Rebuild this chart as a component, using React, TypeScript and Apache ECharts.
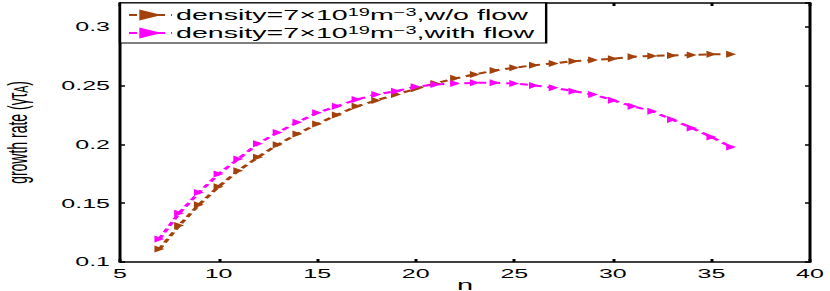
import { useEffect, useRef } from 'react';
import * as echarts from 'echarts';

const nValues = [7, 8, 9, 10, 11, 12, 13, 14, 15, 16, 17, 18, 19, 20, 21, 22, 23, 24, 25, 26, 27, 28, 29, 30, 31, 32, 33, 34, 35, 36];
const growthNoFlow = [0.111, 0.131, 0.1486, 0.164, 0.1775, 0.189, 0.1997, 0.2088, 0.2173, 0.2248, 0.2323, 0.2372, 0.2423, 0.2471, 0.2517, 0.256, 0.2593, 0.2627, 0.265, 0.2672, 0.2687, 0.2706, 0.2715, 0.2727, 0.2744, 0.275, 0.2755, 0.2758, 0.2764, 0.2764];
const growthWithFlow = [0.1196, 0.1415, 0.159, 0.1747, 0.1875, 0.2005, 0.21, 0.2187, 0.2267, 0.2323, 0.238, 0.2423, 0.2451, 0.2488, 0.2508, 0.2517, 0.2522, 0.2522, 0.2517, 0.25, 0.248, 0.2451, 0.2423, 0.2374, 0.2323, 0.228, 0.221, 0.2139, 0.2062, 0.1977];
const seriesNames = ['w/o flow', 'with flow'];
const seriesColors = ['#A2420A', '#FF00FF'];

const FONT = '"Liberation Sans", Arial, Helvetica, sans-serif';
const STRETCH = 2;
const W = 830 / STRETCH;
const H = 291;
const TRI = 'path://M0,0L10,5L0,10Z';

export default function App() {
  const ref = useRef<HTMLDivElement>(null);
  useEffect(() => {
    const chart = echarts.init(ref.current!, null, { renderer: 'svg' });
    const axisCommon = {
      type: 'value' as const,
      splitLine: { show: false },
      axisLine: { show: true, onZero: false, lineStyle: { color: '#000', width: 1.5 } },
    };
    const series = [growthNoFlow, growthWithFlow].map((vals, i) => ({
      name: seriesNames[i],
      type: 'line',
      xAxisIndex: 0,
      yAxisIndex: 0,
      data: nValues.map((n, j) => [n, vals[j]]),
      symbol: TRI,
      symbolSize: [5, 7],
      showAllSymbol: true,
      color: seriesColors[i],
      itemStyle: { color: seriesColors[i] },
      lineStyle: { color: seriesColors[i], width: 2, type: [4, 3] },
    }));
    chart.setOption({
      animation: false,
      backgroundColor: '#fff',
      grid: { left: 60, right: 10, top: 3, bottom: 29, containLabel: false, outerBoundsMode: 'none' },
      legend: {
        orient: 'vertical',
        left: 60,
        top: 3,
        padding: [5, 6, 3, 3.5],
        itemWidth: 21.5,
        itemHeight: 14,
        itemGap: 4,
        backgroundColor: '#fff',
        borderColor: '#000',
        borderWidth: 1.2,
        borderRadius: 0,
        data: seriesNames,
        formatter: (name: string) => `density=7×10{sup|19}m{sup|−3},${name}`,
        textStyle: {
          fontFamily: FONT,
          fontSize: 14.3,
          color: '#000',
          padding: [0, 0, 0, -3],
          lineHeight: 14,
          rich: {
            sup: { fontFamily: FONT, fontSize: 10, color: '#000', verticalAlign: 'top', lineHeight: 8 },
          },
        },
      },
      xAxis: [
        {
          ...axisCommon,
          position: 'bottom',
          min: 5,
          max: 40,
          interval: 5,
          axisTick: { show: true, inside: true, length: 3, lineStyle: { color: '#000', width: 1.5 } },
          axisLabel: { margin: 5, fontSize: 12.5, fontFamily: FONT, color: '#000' },
          name: 'n',
          nameLocation: 'middle',
          nameGap: 16,
          nameMoveOverlap: false,
          nameTextStyle: { fontSize: 14.5, fontFamily: FONT, color: '#000', lineHeight: 13 },
        },
        {
          ...axisCommon,
          position: 'top',
          min: 5,
          max: 40,
          interval: 5,
          axisTick: { show: true, inside: true, length: 3, lineStyle: { color: '#000', width: 1.5 } },
          axisLabel: { show: false },
        },
      ],
      yAxis: [
        {
          ...axisCommon,
          position: 'left',
          min: 0.1,
          max: 0.32,
          interval: 0.05,
          axisTick: { show: true, inside: true, length: 2.5, lineStyle: { color: '#000', width: 1.5 } },
          axisLabel: { margin: 5, fontSize: 12.5, fontFamily: FONT, color: '#000', showMaxLabel: false },
          name: 'growth rate (γτ{sub|A})',
          nameLocation: 'middle',
          nameGap: 44,
          nameRotate: 90,
          nameMoveOverlap: false,
          nameTextStyle: {
            fontSize: 14,
            fontFamily: FONT,
            color: '#000',
            rich: { sub: { fontSize: 10.5, fontFamily: FONT, color: '#000', verticalAlign: 'bottom' } },
          },
        },
        {
          ...axisCommon,
          position: 'right',
          min: 0.1,
          max: 0.32,
          interval: 0.05,
          axisTick: { show: true, inside: true, length: 2.5, lineStyle: { color: '#000', width: 1.5 } },
          axisLabel: { show: false },
        },
      ],
      series,
    });
    return () => chart.dispose();
  }, []);
  return (
    <div
      ref={ref}
      style={{
        position: 'absolute',
        left: 0,
        top: 0,
        width: W,
        height: H,
        transform: `scaleX(${STRETCH})`,
        transformOrigin: '0 0',
      }}
    />
  );
}
